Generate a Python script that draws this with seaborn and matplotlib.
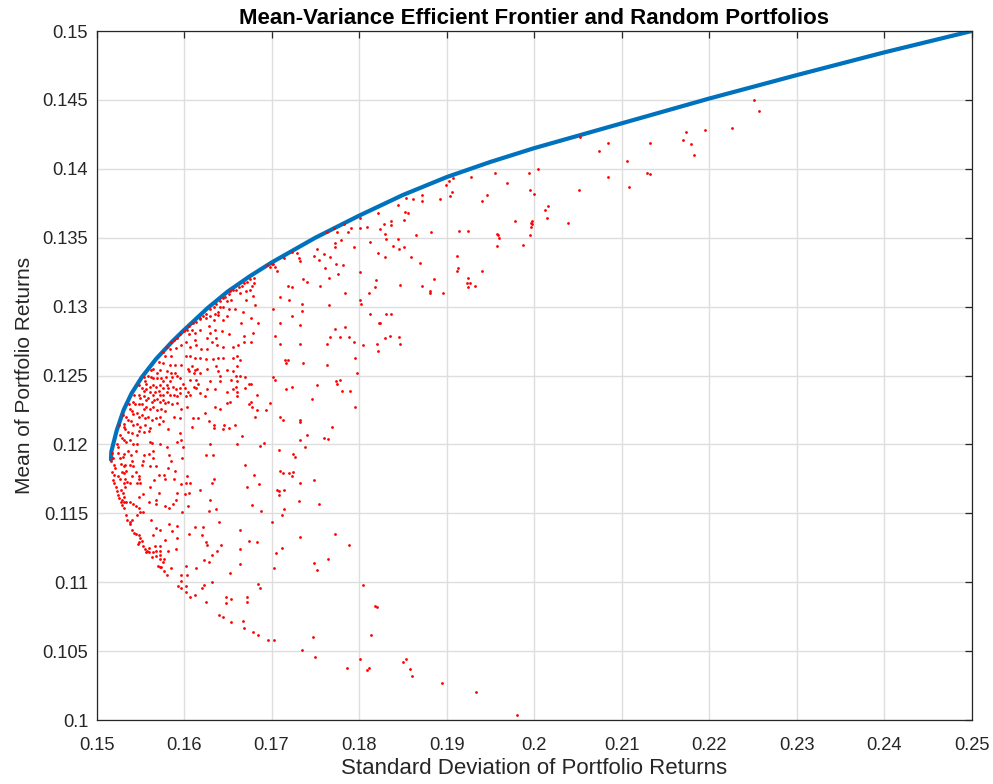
import matplotlib
matplotlib.use("Agg")
import pandas as pd
import seaborn as sns
import matplotlib.pyplot as plt
from matplotlib.ticker import FuncFormatter

# efficient frontier (std, mean)
frontier_std = [0.15165, 0.1517, 0.1519, 0.1523, 0.1531, 0.1540, 0.1552, 0.1568, 0.1587, 0.1600,
                0.1627, 0.1650, 0.1675, 0.1700, 0.1750, 0.1800, 0.1850, 0.1900, 0.1950, 0.2000,
                0.2100, 0.2200, 0.2300, 0.2400, 0.2500]
frontier_mean = [0.1189, 0.1195, 0.1200, 0.1210, 0.1225, 0.1237, 0.1249, 0.1262, 0.1275, 0.1283,
                 0.1299, 0.1311, 0.1322, 0.1332, 0.1350, 0.1366, 0.1381, 0.1394, 0.1405, 0.1415,
                 0.1433, 0.1451, 0.1468, 0.14845, 0.1500]

# random portfolios (std, mean), grouped by region of the plot
pts_edge = [(0.1680, 0.1321), (0.1675, 0.1320), (0.1672, 0.1318), (0.1669, 0.1317), (0.1666, 0.1315),
            (0.1663, 0.1314), (0.1659, 0.1312), (0.1656, 0.1312), (0.1653, 0.1311), (0.1651, 0.1309),
            (0.1647, 0.1307), (0.1644, 0.1306), (0.1641, 0.1304), (0.1637, 0.1302), (0.1634, 0.1300),
            (0.1630, 0.1298), (0.1625, 0.1295), (0.1622, 0.1293), (0.1618, 0.1291), (0.1614, 0.1289),
            (0.1610, 0.1288), (0.1606, 0.1286), (0.1603, 0.1283), (0.1600, 0.1282), (0.1595, 0.1280),
            (0.1592, 0.1277), (0.1589, 0.1276), (0.1585, 0.1274), (0.1580, 0.1271), (0.1576, 0.1267),
            (0.1562, 0.1254), (0.1554, 0.1249), (0.1549, 0.1243), (0.1543, 0.1236), (0.1537, 0.1229),
            (0.1530, 0.1221), (0.1526, 0.1214)]

pts_upper_left = [(0.1680, 0.1317), (0.1678, 0.1315), (0.1675, 0.1312), (0.1671, 0.1311), (0.1664, 0.1310),
                  (0.1671, 0.1305), (0.1679, 0.1308), (0.1681, 0.1301), (0.1654, 0.1305), (0.1649, 0.1304),
                  (0.1641, 0.1300), (0.1645, 0.1300), (0.1651, 0.1298), (0.1658, 0.1298), (0.1667, 0.1296),
                  (0.1639, 0.1296), (0.1635, 0.1295), (0.1630, 0.1293), (0.1625, 0.1292), (0.1618, 0.1292),
                  (0.1634, 0.1290), (0.1639, 0.1294), (0.1644, 0.1290), (0.1649, 0.1293), (0.1676, 0.1292),
                  (0.1665, 0.1288), (0.1684, 0.1288), (0.1628, 0.1286), (0.1635, 0.1283), (0.1643, 0.1282),
                  (0.1618, 0.1283), (0.1609, 0.1283), (0.1613, 0.1281), (0.1606, 0.1280), (0.1630, 0.1281),
                  (0.1626, 0.1277), (0.1637, 0.1277), (0.1651, 0.1280), (0.1669, 0.1279), (0.1679, 0.1281),
                  (0.1662, 0.1272), (0.1656, 0.1271), (0.1645, 0.1271), (0.1638, 0.1272), (0.1632, 0.1274),
                  (0.1619, 0.1269), (0.1626, 0.1269), (0.1607, 0.1271), (0.1602, 0.1274), (0.1596, 0.1272),
                  (0.1591, 0.1270), (0.1584, 0.1269), (0.1613, 0.1276), (0.1614, 0.1272), (0.1677, 0.1274),
                  (0.1668, 0.1274)]

pts_mid_left = [(0.1578, 0.1264), (0.1585, 0.1264), (0.1602, 0.1264), (0.1607, 0.1264), (0.1613, 0.1263),
                (0.1618, 0.1263), (0.1625, 0.1262), (0.1633, 0.1262), (0.1639, 0.1263), (0.1645, 0.1263),
                (0.1656, 0.1263), (0.1661, 0.1264), (0.1664, 0.1261), (0.1571, 0.1260), (0.1576, 0.1259),
                (0.1584, 0.1258), (0.1590, 0.1258), (0.1597, 0.1258), (0.1604, 0.1255), (0.1609, 0.1257),
                (0.1615, 0.1255), (0.1626, 0.1255), (0.1637, 0.1257), (0.1639, 0.1253), (0.1649, 0.1254),
                (0.1660, 0.1257), (0.1670, 0.1249), (0.1677, 0.1244), (0.1656, 0.1253), (0.1565, 0.1255),
                (0.1569, 0.1252), (0.1573, 0.1254), (0.1580, 0.1253), (0.1585, 0.1252), (0.1590, 0.1252),
                (0.1592, 0.1250), (0.1606, 0.1253), (0.1611, 0.1252), (0.1613, 0.1254), (0.1618, 0.1252),
                (0.1641, 0.1250), (0.1659, 0.1250), (0.1664, 0.1250), (0.1559, 0.1250), (0.1562, 0.1249),
                (0.1565, 0.1248), (0.1569, 0.1248), (0.1574, 0.1248), (0.1579, 0.1249), (0.1584, 0.1246),
                (0.1586, 0.1249), (0.1576, 0.1246), (0.1595, 0.1248), (0.1599, 0.1244), (0.1607, 0.1247),
                (0.1614, 0.1247), (0.1616, 0.1244), (0.1614, 0.1241), (0.1611, 0.1242), (0.1630, 0.1246),
                (0.1641, 0.1246), (0.1654, 0.1247), (0.1661, 0.1246), (0.1659, 0.1242), (0.1656, 0.1240),
                (0.1635, 0.1240), (0.1626, 0.1240), (0.1618, 0.1237), (0.1624, 0.1235), (0.1649, 0.1238),
                (0.1660, 0.1238), (0.1661, 0.1235), (0.1676, 0.1231), (0.1678, 0.1227), (0.1681, 0.1220),
                (0.1683, 0.1225), (0.1555, 0.1246), (0.1557, 0.1244), (0.1561, 0.1242), (0.1565, 0.1243),
                (0.1568, 0.1242), (0.1572, 0.1243), (0.1576, 0.1241), (0.1580, 0.1243), (0.1582, 0.1241),
                (0.1587, 0.1242), (0.1591, 0.1240), (0.1595, 0.1241), (0.1601, 0.1241), (0.1605, 0.1238),
                (0.1595, 0.1237), (0.1588, 0.1236), (0.1592, 0.1235), (0.1602, 0.1235), (0.1607, 0.1236),
                (0.1552, 0.1241), (0.1554, 0.1239), (0.1557, 0.1240), (0.1561, 0.1238), (0.1564, 0.1236),
                (0.1567, 0.1238), (0.1571, 0.1239), (0.1573, 0.1236), (0.1576, 0.1236), (0.1580, 0.1238),
                (0.1584, 0.1236), (0.1548, 0.1236), (0.1550, 0.1234), (0.1554, 0.1235), (0.1557, 0.1232),
                (0.1559, 0.1234), (0.1563, 0.1231), (0.1566, 0.1232), (0.1569, 0.1233), (0.1572, 0.1231),
                (0.1576, 0.1232), (0.1578, 0.1230), (0.1582, 0.1231), (0.1586, 0.1229), (0.1592, 0.1230),
                (0.1597, 0.1226), (0.1542, 0.1231), (0.1544, 0.1229), (0.1548, 0.1229), (0.1552, 0.1229),
                (0.1554, 0.1226), (0.1557, 0.1227), (0.1561, 0.1226), (0.1565, 0.1227), (0.1569, 0.1225),
                (0.1574, 0.1226), (0.1578, 0.1224), (0.1538, 0.1226), (0.1540, 0.1224), (0.1542, 0.1222),
                (0.1546, 0.1223), (0.1549, 0.1220), (0.1552, 0.1221), (0.1555, 0.1219), (0.1559, 0.1220),
                (0.1563, 0.1218), (0.1568, 0.1219), (0.1573, 0.1220), (0.1576, 0.1217), (0.1589, 0.1220),
                (0.1595, 0.1219), (0.1603, 0.1227), (0.1534, 0.1220), (0.1536, 0.1218), (0.1539, 0.1217),
                (0.1542, 0.1214), (0.1546, 0.1215), (0.1550, 0.1213), (0.1555, 0.1214), (0.1561, 0.1212),
                (0.1571, 0.1215), (0.1582, 0.1211), (0.1595, 0.1208), (0.1531, 0.1215), (0.1531, 0.1213),
                (0.1533, 0.1211), (0.1536, 0.1209), (0.1540, 0.1208), (0.1546, 0.1207), (0.1554, 0.1209),
                (0.1560, 0.1210), (0.1549, 0.1210), (0.1527, 0.1207), (0.1529, 0.1205), (0.1531, 0.1203),
                (0.1534, 0.1202), (0.1538, 0.1203), (0.1542, 0.1200), (0.1546, 0.1200), (0.1561, 0.1202),
                (0.1563, 0.1201), (0.1573, 0.1200), (0.1580, 0.1198), (0.1592, 0.1202), (0.1597, 0.1203),
                (0.1599, 0.1198), (0.1523, 0.1200), (0.1525, 0.1198), (0.1610, 0.1219), (0.1616, 0.1219),
                (0.1609, 0.1213), (0.1628, 0.1217), (0.1634, 0.1214), (0.1634, 0.1212), (0.1646, 0.1214),
                (0.1651, 0.1212), (0.1645, 0.1211), (0.1658, 0.1214), (0.1666, 0.1206), (0.1687, 0.1199),
                (0.1660, 0.1200), (0.1630, 0.1200), (0.1624, 0.1223), (0.1635, 0.1227), (0.1641, 0.1226),
                (0.1649, 0.1230), (0.1653, 0.1231), (0.1674, 0.1229), (0.1670, 0.1241), (0.1674, 0.1244),
                (0.1683, 0.1236)]

pts_low_left = [(0.1518, 0.1194), (0.1519, 0.1190), (0.1517, 0.1188), (0.1520, 0.1185), (0.1521, 0.1183),
                (0.1518, 0.1180), (0.1520, 0.1178), (0.1519, 0.1174), (0.1520, 0.1172), (0.1522, 0.1169),
                (0.1523, 0.1166), (0.1525, 0.1163), (0.1526, 0.1161), (0.1528, 0.1158), (0.1529, 0.1156),
                (0.1531, 0.1154), (0.1534, 0.1149), (0.1535, 0.1145), (0.1538, 0.1144), (0.1540, 0.1145),
                (0.1538, 0.1142), (0.1541, 0.1138), (0.1543, 0.1136), (0.1545, 0.1135), (0.1548, 0.1134),
                (0.1550, 0.1132), (0.1552, 0.1130), (0.1549, 0.1129), (0.1547, 0.1128), (0.1525, 0.1194),
                (0.1527, 0.1190), (0.1530, 0.1191), (0.1531, 0.1193), (0.1528, 0.1186), (0.1531, 0.1184),
                (0.1533, 0.1185), (0.1534, 0.1181), (0.1529, 0.1180), (0.1531, 0.1179), (0.1524, 0.1177),
                (0.1527, 0.1175), (0.1533, 0.1175), (0.1535, 0.1173), (0.1538, 0.1172), (0.1540, 0.1177),
                (0.1531, 0.1172), (0.1533, 0.1169), (0.1528, 0.1167), (0.1530, 0.1165), (0.1531, 0.1162),
                (0.1529, 0.1160), (0.1531, 0.1158), (0.1534, 0.1158), (0.1538, 0.1158), (0.1542, 0.1157),
                (0.1545, 0.1155), (0.1548, 0.1154), (0.1550, 0.1151), (0.1553, 0.1151), (0.1546, 0.1149),
                (0.1536, 0.1195), (0.1539, 0.1192), (0.1545, 0.1195), (0.1554, 0.1192), (0.1560, 0.1193),
                (0.1565, 0.1195), (0.1583, 0.1192), (0.1541, 0.1188), (0.1538, 0.1185), (0.1542, 0.1184),
                (0.1545, 0.1180), (0.1548, 0.1177), (0.1549, 0.1175), (0.1546, 0.1172), (0.1550, 0.1172),
                (0.1553, 0.1188), (0.1552, 0.1185), (0.1561, 0.1184), (0.1565, 0.1190), (0.1568, 0.1184),
                (0.1571, 0.1178), (0.1577, 0.1178), (0.1578, 0.1175), (0.1566, 0.1174), (0.1582, 0.1183),
                (0.1585, 0.1188), (0.1590, 0.1181), (0.1589, 0.1175), (0.1561, 0.1169), (0.1571, 0.1165),
                (0.1553, 0.1164), (0.1549, 0.1162), (0.1560, 0.1158), (0.1568, 0.1160), (0.1568, 0.1157),
                (0.1578, 0.1155), (0.1583, 0.1154), (0.1587, 0.1157), (0.1592, 0.1165), (0.1591, 0.1160),
                (0.1598, 0.1190), (0.1603, 0.1177), (0.1597, 0.1171), (0.1602, 0.1172), (0.1606, 0.1165),
                (0.1601, 0.1164), (0.1607, 0.1172), (0.1598, 0.1151), (0.1605, 0.1155), (0.1618, 0.1167),
                (0.1625, 0.1192), (0.1633, 0.1192), (0.1634, 0.1175), (0.1632, 0.1172), (0.1630, 0.1160),
                (0.1629, 0.1152), (0.1637, 0.1153), (0.1640, 0.1144), (0.1622, 0.1140), (0.1613, 0.1140),
                (0.1606, 0.1135), (0.1592, 0.1141), (0.1586, 0.1137), (0.1583, 0.1142), (0.1573, 0.1138),
                (0.1568, 0.1139), (0.1562, 0.1145), (0.1565, 0.1134), (0.1578, 0.1131), (0.1592, 0.1132),
                (0.1620, 0.1134), (0.1625, 0.1129), (0.1642, 0.1127), (0.1664, 0.1138), (0.1674, 0.1130),
                (0.1683, 0.1129), (0.1678, 0.1156), (0.1672, 0.1169), (0.1680, 0.1178), (0.1670, 0.1185),
                (0.1686, 0.1171)]

pts_bottom = [(0.1553, 0.1126), (0.1555, 0.1124), (0.1558, 0.1123), (0.1560, 0.1125), (0.1557, 0.1122),
              (0.1560, 0.1122), (0.1564, 0.1122), (0.1567, 0.1126), (0.1568, 0.1123), (0.1572, 0.1126),
              (0.1572, 0.1123), (0.1572, 0.1120), (0.1568, 0.1119), (0.1563, 0.1118), (0.1572, 0.1117),
              (0.1577, 0.1117), (0.1576, 0.1115), (0.1582, 0.1123), (0.1591, 0.1124), (0.1570, 0.1112),
              (0.1572, 0.1111), (0.1574, 0.1111), (0.1577, 0.1108), (0.1585, 0.1110), (0.1581, 0.1105),
              (0.1596, 0.1105), (0.1603, 0.1105), (0.1602, 0.1112), (0.1597, 0.1101), (0.1593, 0.1097),
              (0.1597, 0.1096), (0.1602, 0.1097), (0.1602, 0.1093), (0.1607, 0.1089), (0.1613, 0.1091),
              (0.1620, 0.1096), (0.1623, 0.1098), (0.1625, 0.1086), (0.1614, 0.1110), (0.1623, 0.1116),
              (0.1629, 0.1115), (0.1632, 0.1120), (0.1626, 0.1127), (0.1638, 0.1123), (0.1664, 0.1124),
              (0.1664, 0.1113), (0.1653, 0.1107), (0.1632, 0.1100), (0.1648, 0.1089), (0.1648, 0.1085),
              (0.1654, 0.1088), (0.1672, 0.1089), (0.1672, 0.1086), (0.1684, 0.1099), (0.1687, 0.1096),
              (0.1640, 0.1076), (0.1645, 0.1075), (0.1654, 0.1071), (0.1667, 0.1072), (0.1669, 0.1067),
              (0.1679, 0.1064), (0.1685, 0.1062), (0.1688, 0.1152), (0.1700, 0.1144), (0.1706, 0.1167),
              (0.1708, 0.1166), (0.1709, 0.1163), (0.1714, 0.1167), (0.1714, 0.1153), (0.1712, 0.1149),
              (0.1731, 0.1159), (0.1754, 0.1157), (0.1733, 0.1133), (0.1773, 0.1135), (0.1788, 0.1127),
              (0.1765, 0.1117), (0.1748, 0.1114), (0.1752, 0.1109), (0.1712, 0.1125), (0.1705, 0.1121),
              (0.1703, 0.1110), (0.1696, 0.1058), (0.1703, 0.1058), (0.1735, 0.1051), (0.1747, 0.1060),
              (0.1750, 0.1046), (0.1786, 0.1038), (0.1801, 0.1044), (0.1809, 0.1036), (0.1811, 0.1038),
              (0.1805, 0.1098), (0.1814, 0.1062), (0.1818, 0.1083), (0.1820, 0.1082), (0.1850, 0.1042),
              (0.1854, 0.1044), (0.1858, 0.1037), (0.1860, 0.1032), (0.1895, 0.1027), (0.1934, 0.1020),
              (0.1980, 0.1004)]

pts_middle = [(0.1704, 0.1329), (0.1706, 0.1326), (0.1732, 0.1333), (0.1731, 0.1335), (0.1748, 0.1337),
              (0.1754, 0.1334), (0.1760, 0.1338), (0.1767, 0.1336), (0.1774, 0.1331), (0.1782, 0.1330),
              (0.1761, 0.1328), (0.1776, 0.1324), (0.1801, 0.1325), (0.1719, 0.1315), (0.1723, 0.1314),
              (0.1736, 0.1320), (0.1740, 0.1318), (0.1710, 0.1307), (0.1720, 0.1305), (0.1755, 0.1315),
              (0.1766, 0.1321), (0.1784, 0.1310), (0.1811, 0.1310), (0.1819, 0.1319), (0.1818, 0.1314),
              (0.1822, 0.1339), (0.1801, 0.1305), (0.1802, 0.1302), (0.1735, 0.1302), (0.1735, 0.1297),
              (0.1766, 0.1301), (0.1723, 0.1293), (0.1732, 0.1287), (0.1710, 0.1288), (0.1704, 0.1279),
              (0.1702, 0.1298), (0.1710, 0.1273), (0.1715, 0.1261), (0.1717, 0.1259), (0.1719, 0.1261),
              (0.1736, 0.1259), (0.1733, 0.1273), (0.1767, 0.1278), (0.1763, 0.1273), (0.1773, 0.1284),
              (0.1778, 0.1278), (0.1784, 0.1285), (0.1788, 0.1278), (0.1794, 0.1274), (0.1805, 0.1272),
              (0.1813, 0.1295), (0.1823, 0.1288), (0.1820, 0.1273), (0.1822, 0.1268), (0.1795, 0.1263),
              (0.1798, 0.1252), (0.1763, 0.1258), (0.1752, 0.1243), (0.1723, 0.1242), (0.1717, 0.1240),
              (0.1704, 0.1247), (0.1702, 0.1249), (0.1698, 0.1230), (0.1694, 0.1225), (0.1710, 0.1220),
              (0.1713, 0.1218), (0.1732, 0.1216), (0.1733, 0.1218), (0.1746, 0.1233), (0.1774, 0.1246),
              (0.1778, 0.1247), (0.1775, 0.1244), (0.1781, 0.1239), (0.1790, 0.1239), (0.1795, 0.1227),
              (0.1769, 0.1213), (0.1760, 0.1205), (0.1764, 0.1204), (0.1741, 0.1207), (0.1733, 0.1203),
              (0.1738, 0.1198), (0.1725, 0.1193), (0.1727, 0.1191), (0.1709, 0.1196), (0.1691, 0.1201),
              (0.1710, 0.1181), (0.1713, 0.1179), (0.1720, 0.1179), (0.1723, 0.1177), (0.1725, 0.1180),
              (0.1748, 0.1174), (0.1732, 0.1172), (0.1723, 0.1340), (0.1729, 0.1339), (0.1714, 0.1335),
              (0.1695, 0.1330), (0.1700, 0.1331), (0.1702, 0.1331), (0.1698, 0.1329), (0.1822, 0.1368),
              (0.1801, 0.1364), (0.1809, 0.1358), (0.1783, 0.1360), (0.1771, 0.1357), (0.1775, 0.1354),
              (0.1763, 0.1354), (0.1787, 0.1354), (0.1791, 0.1357), (0.1812, 0.1347), (0.1794, 0.1343),
              (0.1779, 0.1348), (0.1773, 0.1346), (0.1773, 0.1343), (0.1752, 0.1342), (0.1801, 0.1357)]

pts_right = [(0.2052, 0.1423), (0.2074, 0.1413), (0.2085, 0.1419), (0.2106, 0.1406), (0.2133, 0.1419),
             (0.2129, 0.1397), (0.2133, 0.1396), (0.2084, 0.1394), (0.2108, 0.1387), (0.2051, 0.1385),
             (0.2004, 0.1400), (0.1994, 0.1397), (0.1969, 0.1390), (0.1955, 0.1397), (0.1928, 0.1394),
             (0.1907, 0.1393), (0.1903, 0.1391), (0.1899, 0.1388), (0.1906, 0.1383), (0.1904, 0.1380),
             (0.1893, 0.1378), (0.1872, 0.1377), (0.1872, 0.1381), (0.1862, 0.1378), (0.1854, 0.1379),
             (0.1844, 0.1374), (0.1853, 0.1369), (0.1856, 0.1368), (0.1851, 0.1363), (0.1836, 0.1362),
             (0.1836, 0.1359), (0.1828, 0.1360), (0.1830, 0.1353), (0.1824, 0.1356), (0.1831, 0.1349),
             (0.1845, 0.1349), (0.1839, 0.1344), (0.1846, 0.1342), (0.1851, 0.1343), (0.1865, 0.1352),
             (0.1882, 0.1354), (0.1914, 0.1355), (0.1925, 0.1355), (0.1946, 0.1381), (0.1941, 0.1377),
             (0.1995, 0.1385), (0.2000, 0.1382), (0.2013, 0.1370), (0.2016, 0.1373), (0.2015, 0.1364),
             (0.1978, 0.1362), (0.1996, 0.1361), (0.1998, 0.1362), (0.1998, 0.1360), (0.1997, 0.1358),
             (0.1958, 0.1353), (0.1959, 0.1352), (0.1960, 0.1350), (0.1958, 0.1344), (0.1987, 0.1345),
             (0.1995, 0.1352), (0.2039, 0.1361), (0.1830, 0.1336), (0.1859, 0.1336), (0.1870, 0.1332),
             (0.1912, 0.1337), (0.1913, 0.1328), (0.1912, 0.1326), (0.1941, 0.1326), (0.1886, 0.1320),
             (0.1847, 0.1316), (0.1872, 0.1315), (0.1881, 0.1311), (0.1881, 0.1310), (0.1896, 0.1310),
             (0.1924, 0.1321), (0.1923, 0.1317), (0.1927, 0.1317), (0.1925, 0.1314), (0.1932, 0.1315),
             (0.1831, 0.1295), (0.1837, 0.1295), (0.1824, 0.1288), (0.1830, 0.1277), (0.1835, 0.1279),
             (0.1846, 0.1278), (0.1847, 0.1273), (0.2251, 0.1450), (0.2257, 0.1442), (0.2226, 0.1430),
             (0.2195, 0.1428), (0.2174, 0.1427), (0.2170, 0.1421), (0.2179, 0.1418), (0.2183, 0.1410)]

x_ticks = [0.15, 0.16, 0.17, 0.18, 0.19, 0.2, 0.21, 0.22, 0.23, 0.24, 0.25]
y_ticks = [0.1, 0.105, 0.11, 0.115, 0.12, 0.125, 0.13, 0.135, 0.14, 0.145, 0.15]

all_pts = pts_edge + pts_upper_left + pts_mid_left + pts_low_left + pts_bottom + pts_middle + pts_right
df = pd.DataFrame(all_pts, columns=["std", "mean"])
front = pd.DataFrame({"std": frontier_std, "mean": frontier_mean})

sns.set_theme(style="white")
plt.rcParams["font.family"] = ["Liberation Sans", "DejaVu Sans"]

dark = "#262626"
fig = plt.figure(figsize=(9.93, 7.84), dpi=100)
ax = fig.add_axes([0.0972, 0.0816, 0.8813, 0.8788])

sns.lineplot(data=front, x="std", y="mean", sort=False, estimator=None,
             color="#0072BD", linewidth=3.0, ax=ax, zorder=2)
sns.scatterplot(data=df, x="std", y="mean", color="red", s=4, linewidth=0,
                ax=ax, zorder=3)

ax.set_xlim(0.15, 0.25)
ax.set_ylim(0.1, 0.15)
ax.set_xticks(x_ticks)
ax.set_yticks(y_ticks)
fmt = FuncFormatter(lambda v, p: "{:g}".format(round(v, 4)))
ax.xaxis.set_major_formatter(fmt)
ax.yaxis.set_major_formatter(fmt)

ax.grid(True, color="#dedede", linewidth=1.0)
ax.set_axisbelow(True)
for s in ax.spines.values():
    s.set_color(dark)
    s.set_linewidth(0.9)
ax.tick_params(direction="in", length=5, width=0.9, color=dark, labelcolor=dark,
               labelsize=13.2, top=True, right=True)
ax.tick_params(axis="x", pad=12)
ax.tick_params(axis="y", pad=6)

ax.set_xlabel("Standard Deviation of Portfolio Returns", fontsize=16, color=dark, labelpad=3)
ax.set_ylabel("Mean of Portfolio Returns", fontsize=15, color=dark, labelpad=6)
ax.set_title("Mean-Variance Efficient Frontier and Random Portfolios", fontsize=16,
             fontweight="bold", color="black", pad=5)

fig.savefig("out.png", dpi=100)
plt.close(fig)
